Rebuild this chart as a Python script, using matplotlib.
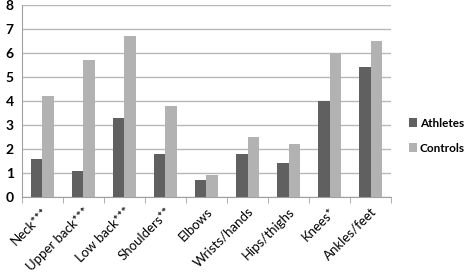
import numpy as np
import matplotlib.pyplot as plt

categories = ['Neck***', 'Upper back***', 'Low back***', 'Shoulders**', 'Elbows',
              'Wrists/hands', 'Hips/thighs', 'Knees*', 'Ankles/feet']
athletes = [1.6, 1.1, 3.3, 1.8, 0.7, 1.8, 1.4, 4.0, 5.4]
controls = [4.2, 5.7, 6.7, 3.8, 0.9, 2.5, 2.2, 6.0, 6.5]
yticks = [0, 1, 2, 3, 4, 5, 6, 7, 8]

plt.rcParams['font.family'] = ['Lato', 'DejaVu Sans']

fig = plt.figure(figsize=(4.72, 2.74), dpi=100)
ax = fig.add_axes([0.0466, 0.281, 0.7818, 0.7007])

x = np.arange(len(categories))
w = 0.28
ax.bar(x - w / 2, athletes, w, color='#606060', label='Athletes', zorder=3)
ax.bar(x + w / 2, controls, w, color='#b2b2b2', label='Controls', zorder=3)

ax.set_xlim(-0.5, len(categories) - 0.5)
ax.set_ylim(0, 8)
ax.set_yticks(yticks)
ax.set_yticklabels([str(v) for v in yticks], fontweight='bold', fontsize=10)
ax.yaxis.grid(True, color='#b8b8b8', linewidth=1, zorder=0)
ax.tick_params(axis='y', length=0, pad=6)

ax.set_xticks(x)
ax.set_xticklabels(categories, rotation=45, ha='right', rotation_mode='anchor', fontsize=9.5)
ax.set_xticks(np.arange(-0.5, len(categories)), minor=True)
ax.tick_params(axis='x', which='major', length=0, pad=6)
ax.tick_params(axis='x', which='minor', length=4, color='#a0a0a0')

for s in ['top', 'right']:
    ax.spines[s].set_visible(False)
ax.spines['left'].set_color('#a0a0a0')
ax.spines['bottom'].set_color('#a0a0a0')

fig.legend(loc='center left', bbox_to_anchor=(0.848, 0.505), frameon=False,
           handlelength=0.7, handleheight=0.7, handletextpad=0.25, labelspacing=1.2,
           borderpad=0.2, prop={'weight': 'bold', 'size': 8.5})

fig.savefig('out.png', dpi=100)
